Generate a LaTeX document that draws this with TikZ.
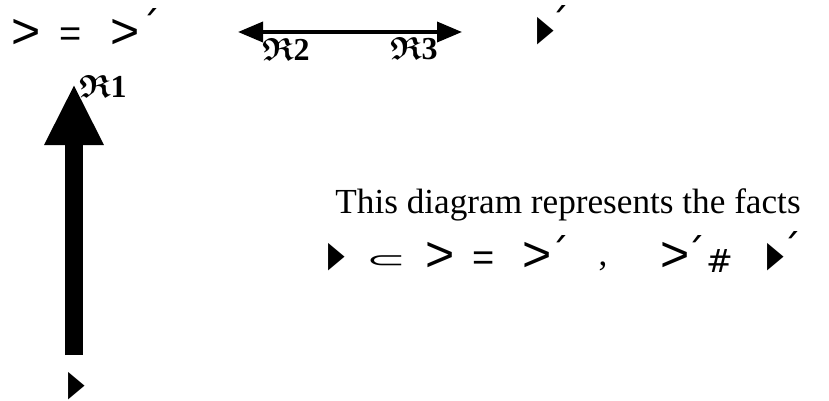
\documentclass[tikz,border=0pt]{standalone}
\usepackage{amssymb}
\usepackage{fontspec}
\setmainfont{Liberation Serif}
\newfontfamily\symfont{DejaVu Sans}
\newfontfamily\arfont{Liberation Sans}
\usetikzlibrary{arrows.meta}
\tikzset{
  sym/.style={inner sep=0pt, anchor=center, font=\arfont\fontsize{25}{25}\selectfont},
  eqs/.style={inner sep=0pt, anchor=center, font=\arfont\fontsize{19}{19}\selectfont},
  sub/.style={inner sep=0pt, anchor=center, yscale=0.45, font=\symfont\fontsize{24}{24}\selectfont},
  acc/.style={inner sep=0pt, anchor=north, font=\symfont\fontsize{20}{20}\selectfont},
  tri/.style={inner sep=0pt, anchor=center, xscale=0.6, font=\symfont\fontsize{18}{18}\selectfont},
  lab/.style={inner sep=0pt, anchor=center, font=\fontsize{16}{16}\selectfont\bfseries\boldmath},
  bigarrow/.style={line width=9pt, line cap=butt, -{Triangle[length=30.5pt,width=27.5pt]}},
  thinarrow/.style={line width=1.8pt, {Triangle[length=12.5pt,width=10pt]}-{Triangle[length=12.5pt,width=10pt]}}
}
\begin{document}
\begin{tikzpicture}[x=0.5pt,y=-0.5pt]
\useasboundingbox (0,0) rectangle (829,401);
% top-left
\node[sym] (g1) at (26,34) {>};
\node[eqs] (e1) at (71,37) {=};
\node[sym] (g2) at (125,34) {>};
\node[acc] (a1) at (150,8) {´};
% double arrow
\coordinate (dl) at (238,32);
\coordinate (dr) at (462,32);
\draw[thinarrow] (dl) -- (dr);
\node[lab] (r2) at (286,49) {$\mathfrak{R}$2};
\node[lab] (r3) at (414,49) {$\mathfrak{R}$3};
% top-right
\node[tri] (t1) at (546,31) {▶};
\node[acc] (a2) at (559,5) {´};
% vertical arrow
\coordinate (vb) at (74,355);
\coordinate (vt) at (74,84);
\draw[bigarrow] (vb) -- (vt);
\node[lab] (r1) at (103,86) {$\mathfrak{R}$1};
\node[tri] (t0) at (77,386) {▶};
% text
\node[inner sep=0pt, anchor=base west, font=\fontsize{17.6}{17.6}\selectfont] (txt) at (335,213) {This diagram represents the facts};
\node[tri] (t2) at (337,257) {▶};
\node[sub] (s1) at (386,262) {⊂};
\node[sym] (g3) at (440,257) {>};
\node[eqs] (e2) at (484,261) {=};
\node[sym] (g4) at (537,257) {>};
\node[acc] (a3) at (559,235) {´};
\node[inner sep=0pt, anchor=center, font=\fontsize{17.6}{17.6}\selectfont] (c1) at (603,266) {,};
\node[sym] (g5) at (675,257) {>};
\node[acc] (a4) at (695,235) {´};
\node[inner sep=0pt, anchor=center, font=\symfont\fontsize{16}{16}\selectfont] (h1) at (720,261) {\#};
\node[tri] (t3) at (776,257) {▶};
\node[acc] (a5) at (791,231) {´};
\end{tikzpicture}
\end{document}
